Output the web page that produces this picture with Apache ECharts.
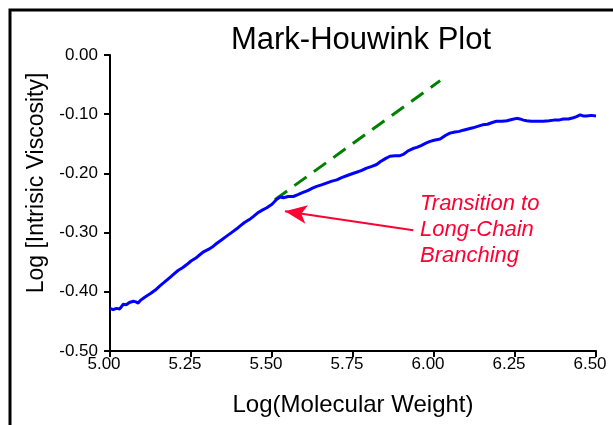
<!DOCTYPE html>
<html>
<head>
<meta charset="utf-8">
<title>Mark-Houwink Plot</title>
<script src="https://cdn.jsdelivr.net/npm/echarts@6/dist/echarts.min.js"></script>
<style>
  html, body { margin: 0; padding: 0; background: #fff; }
  #main { width: 613px; height: 425px; }
</style>
</head>
<body>
<div id="main"></div>
<script>
// log(MW) vs log(intrinsic viscosity)
var logMW = [5.000, 5.010, 5.020, 5.030, 5.041, 5.050, 5.060, 5.072, 5.080, 5.087,
  5.095, 5.105, 5.113, 5.125, 5.140, 5.154, 5.165, 5.180, 5.195, 5.210,
  5.225, 5.237, 5.250, 5.265, 5.278, 5.290, 5.305, 5.319, 5.330, 5.345,
  5.360, 5.375, 5.390, 5.401, 5.415, 5.430, 5.442, 5.455, 5.470, 5.484,
  5.500, 5.514, 5.525, 5.535, 5.550, 5.566, 5.580, 5.592, 5.610, 5.625,
  5.638, 5.655, 5.670, 5.685, 5.700, 5.715, 5.730, 5.745, 5.761, 5.777,
  5.792, 5.808, 5.823, 5.835, 5.850, 5.864, 5.880, 5.895, 5.905, 5.920,
  5.935, 5.947, 5.960, 5.975, 5.988, 6.000, 6.019, 6.035, 6.049, 6.065,
  6.078, 6.090, 6.105, 6.120, 6.132, 6.150, 6.165, 6.180, 6.193, 6.210,
  6.225, 6.240, 6.255, 6.265, 6.276, 6.286, 6.300, 6.318, 6.337, 6.355,
  6.370, 6.385, 6.399, 6.415, 6.430, 6.440, 6.451, 6.460, 6.471, 6.485, 6.500];
var logIV = [-0.428, -0.430, -0.428, -0.429, -0.421, -0.422, -0.418, -0.416, -0.417, -0.419,
  -0.414, -0.410, -0.407, -0.403, -0.397, -0.390, -0.385, -0.378, -0.371, -0.364,
  -0.359, -0.354, -0.348, -0.343, -0.337, -0.332, -0.328, -0.323, -0.318, -0.312,
  -0.306, -0.300, -0.294, -0.289, -0.283, -0.278, -0.273, -0.267, -0.262, -0.258,
  -0.252, -0.244, -0.240, -0.241, -0.239, -0.239, -0.236, -0.233, -0.229, -0.225,
  -0.222, -0.219, -0.216, -0.213, -0.211, -0.207, -0.204, -0.201, -0.198, -0.195,
  -0.191, -0.188, -0.185, -0.180, -0.175, -0.171, -0.170, -0.170, -0.168, -0.162,
  -0.158, -0.156, -0.153, -0.149, -0.146, -0.144, -0.142, -0.136, -0.132, -0.130,
  -0.129, -0.127, -0.125, -0.123, -0.121, -0.118, -0.117, -0.114, -0.112, -0.112,
  -0.111, -0.109, -0.107, -0.108, -0.110, -0.111, -0.112, -0.112, -0.112, -0.111,
  -0.110, -0.110, -0.108, -0.108, -0.106, -0.104, -0.101, -0.103, -0.103, -0.102, -0.103];

// linear (unbranched) extrapolation
var fitX = [5.509, 6.019];
var fitY = [-0.2444, -0.0433];

// arrow: from text to the transition point
var arrowFrom = [5.936, -0.2961];
var arrowTo = [5.540, -0.2641];

var xTicks = [5.0, 6.5, 0.25];   // min, max, step
var yTicks = [-0.5, 0.0, 0.1];

var font = "Arial, 'Liberation Sans', sans-serif";

function pairs(xs, ys) {
  var out = [];
  for (var i = 0; i < xs.length; i++) out.push([xs[i], ys[i]]);
  return out;
}

var chart = echarts.init(document.getElementById("main"));
var option = {
  animation: false,
  backgroundColor: "#fff",
  title: {
    text: "Mark-Houwink Plot",
    left: 356,
    top: 20,
    textAlign: "center",
    textStyle: { fontFamily: font, fontSize: 31, fontWeight: "normal", color: "#000" },
  },
  grid: { left: 110, right: 17, top: 55, bottom: 74 },
  xAxis: {
    type: "value",
    min: xTicks[0],
    max: xTicks[1],
    interval: xTicks[2],
    name: "Log(Molecular Weight)",
    nameLocation: "middle",
    nameGap: 42,
    nameTextStyle: { fontFamily: font, fontSize: 24, color: "#000" },
    axisLine: { onZero: false, lineStyle: { color: "#000", width: 2 } },
    axisTick: { length: 6, lineStyle: { color: "#000", width: 2 } },
    axisLabel: {
      fontFamily: font, fontSize: 17, color: "#000", margin: 5,
      padding: [0, 12, 0, 0],
      formatter: function (v) { return v.toFixed(2); },
    },
    splitLine: { show: false },
  },
  yAxis: {
    type: "value",
    min: yTicks[0],
    max: yTicks[1],
    interval: yTicks[2],
    name: "Log [Intrisic Viscosity]",
    nameLocation: "middle",
    nameGap: 62,
    nameTextStyle: { fontFamily: font, fontSize: 23, color: "#000", padding: [0, 0, 0, 40] },
    axisLine: { lineStyle: { color: "#000", width: 2 } },
    axisTick: { length: 6, lineStyle: { color: "#000", width: 2 } },
    axisLabel: {
      fontFamily: font, fontSize: 17, color: "#000", margin: 12,
      formatter: function (v) { return v.toFixed(2); },
    },
    splitLine: { show: false },
  },
  series: [
    {
      name: "data",
      type: "line",
      data: pairs(logMW, logIV),
      showSymbol: false,
      lineStyle: { color: "#0000ff", width: 3 },
      z: 3,
      markLine: {
        silent: true,
        symbol: ["none", "arrow"],
        symbolSize: [14, 22],
        label: { show: false },
        lineStyle: { color: "#ff0033", width: 2, type: "solid" },
        data: [[{ coord: arrowFrom }, { coord: arrowTo }]],
      },
    },
    {
      name: "fit",
      type: "line",
      data: pairs(fitX, fitY),
      showSymbol: false,
      lineStyle: { color: "#008000", width: 3, type: [15, 9] },
      z: 2,
    },
  ],
  graphic: [
    {
      type: "rect",
      shape: { x: 10, y: 10, width: 700, height: 500 },
      style: { fill: "none", stroke: "#000", lineWidth: 3 },
      silent: true,
    },
    {
      type: "text",
      left: 420,
      top: 191,
      style: {
        text: "Transition to\nLong-Chain\nBranching",
        font: "italic 22px " + font,
        fill: "#ff0033",
        lineHeight: 26,
      },
    },
  ],
};
chart.setOption(option);
</script>
</body>
</html>
